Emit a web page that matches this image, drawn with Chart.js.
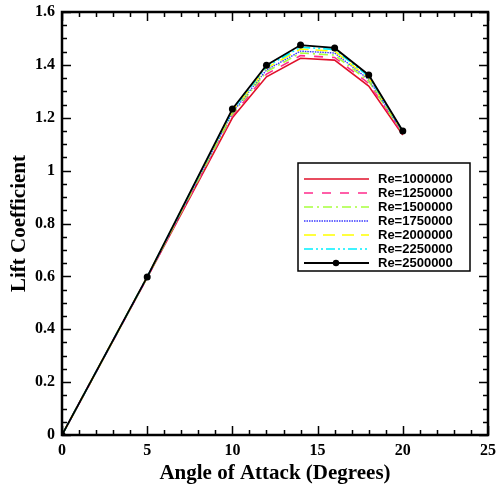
<!DOCTYPE html>
<html><head><meta charset="utf-8">
<script src="https://cdn.jsdelivr.net/npm/chart.js@4.4.1/dist/chart.umd.min.js"></script>
<style>html,body{margin:0;padding:0;background:#fff}#wrap{width:496px;height:486px}</style>
</head><body><div id="wrap"><canvas id="c" width="496" height="486"></canvas></div>
<script>
const angles = [0, 5, 10, 12, 14, 16, 18, 20];
const re1000000 = [0, 0.595, 1.200, 1.355, 1.425, 1.418, 1.320, 1.135];
const re1250000 = [0, 0.596, 1.208, 1.365, 1.435, 1.428, 1.330, 1.140];
const re1500000 = [0, 0.597, 1.214, 1.374, 1.445, 1.437, 1.338, 1.142];
const re1750000 = [0, 0.597, 1.220, 1.381, 1.452, 1.445, 1.345, 1.145];
const re2000000 = [0, 0.598, 1.225, 1.388, 1.460, 1.452, 1.350, 1.147];
const re2250000 = [0, 0.598, 1.229, 1.393, 1.467, 1.458, 1.356, 1.148];
const re2500000 = [0, 0.598, 1.233, 1.399, 1.475, 1.464, 1.362, 1.150];
const seriesLabels = ["Re=1000000","Re=1250000","Re=1500000","Re=1750000","Re=2000000","Re=2250000","Re=2500000"];
const xTicks = [0, 5, 10, 15, 20, 25];
const yTicks = [0, 0.2, 0.4, 0.6, 0.8, 1, 1.2, 1.4, 1.6];

const allSeries = [re1000000, re1250000, re1500000, re1750000, re2000000, re2250000, re2500000];
const styles = [
  {c:'#e0102a', d:[], w:1.6},
  {c:'#ff2a8c', d:[9,9], w:1.6},
  {c:'#a8ff3c', d:[9,4,2,4], w:1.6},
  {c:'#3a3aff', d:[1.5,1], w:1.4},
  {c:'#ffff00', d:[12,7], w:1.6},
  {c:'#00f0ff', d:[9,3,2,3,2,3], w:1.6},
  {c:'#000000', d:[], w:1.8}
];
const datasets = allSeries.map((vals,i)=>({
  label: seriesLabels[i],
  data: angles.map((a,j)=>({x:a, y:vals[j]})),
  borderColor: styles[i].c,
  backgroundColor: styles[i].c,
  borderDash: styles[i].d,
  borderWidth: styles[i].w,
  pointRadius: i===6 ? 3.5 : 0,
  pointBackgroundColor: '#000',
  pointBorderWidth: 0,
  showLine: true,
  tension: 0,
  order: 6 - i
}));

const framePlugin = {
  id:'frame',
  afterDraw(chart){
    const ctx = chart.ctx, a = chart.chartArea;
    const xs = chart.scales.x, ys = chart.scales.y;
    ctx.save();
    ctx.strokeStyle = '#000';
    ctx.lineWidth = 1.5;
    ctx.beginPath();
    for (let v = 0; v <= 25; v += 1) {
      const px = Math.round(xs.getPixelForValue(v)) + 0.5;
      const len = (v % 5 === 0) ? 9 : 5;
      ctx.moveTo(px, a.bottom); ctx.lineTo(px, a.bottom - len);
      ctx.moveTo(px, a.top); ctx.lineTo(px, a.top + len);
    }
    for (let k = 0; k <= 32; k++) {
      const v = k * 0.05;
      const py = Math.round(ys.getPixelForValue(v)) + 0.5;
      const len = (k % 4 === 0) ? 9 : 5;
      ctx.moveTo(a.left, py); ctx.lineTo(a.left + len, py);
      ctx.moveTo(a.right, py); ctx.lineTo(a.right - len, py);
    }
    ctx.stroke();
    ctx.lineWidth = 2.5;
    ctx.strokeRect(a.left, a.top, a.right - a.left, a.bottom - a.top);
    // legend
    const lx = 298, ly = 163, lw = 172, lh = 108;
    ctx.fillStyle = '#fff';
    ctx.fillRect(lx, ly, lw, lh);
    ctx.lineWidth = 1.5;
    ctx.strokeRect(lx, ly, lw, lh);
    ctx.font = 'bold 13px "Liberation Sans", Arial, sans-serif';
    ctx.textBaseline = 'middle';
    ctx.textAlign = 'left';
    seriesLabels.forEach((lab, i) => {
      const y = ly + 16 + i * 14;
      ctx.strokeStyle = styles[i].c;
      ctx.lineWidth = styles[i].w;
      ctx.setLineDash(styles[i].d);
      ctx.beginPath();
      ctx.moveTo(lx + 6, y); ctx.lineTo(lx + 71, y);
      ctx.stroke();
      ctx.setLineDash([]);
      if (i === 6) {
        ctx.fillStyle = '#000';
        ctx.beginPath(); ctx.arc(lx + 38, y, 3.2, 0, Math.PI*2); ctx.fill();
      }
      ctx.fillStyle = '#000';
      ctx.fillText(lab, lx + 80, y + 0.5);
    });
    ctx.restore();
  }
};

const tickFont = {family:'"Liberation Serif", "Times New Roman", serif', size:16, weight:'bold'};
const titleFont = {family:'"Liberation Serif", "Times New Roman", serif', size:21, weight:'bold'};

new Chart(document.getElementById('c'), {
  type:'scatter',
  data:{datasets},
  options:{
    responsive:false,
    animation:false,
    layout:{padding:{top:12, right:8, left:0, bottom:0}},
    plugins:{legend:{display:false}, tooltip:{enabled:false}},
    scales:{
      x:{
        type:'linear', min:0, max:25,
        afterFit(s){ s.height = 51; s.paddingLeft = 0; s.paddingRight = 0; },
        afterBuildTicks(s){ s.ticks = xTicks.map(v=>({value:v})); },
        ticks:{font:tickFont, color:'#000', padding:6, maxRotation:0},
        grid:{drawOnChartArea:false, drawTicks:false},
        border:{display:false},
        title:{display:true, text:'Angle of Attack (Degrees)', font:titleFont, color:'#000', padding:{top:0,bottom:0}}
      },
      y:{
        type:'linear', min:0, max:1.6,
        afterFit(s){ s.width = 62; s.paddingTop = 0; s.paddingBottom = 0; },
        afterBuildTicks(s){ s.ticks = yTicks.map(v=>({value:v})); },
        ticks:{font:tickFont, color:'#000', padding:7, callback:v=>String(Math.round(v*10)/10)},
        grid:{drawOnChartArea:false, drawTicks:false},
        border:{display:false},
        title:{display:true, text:'Lift Coefficient', font:titleFont, color:'#000', padding:{top:7,bottom:0}}
      }
    }
  },
  plugins:[framePlugin]
});
</script></body></html>
